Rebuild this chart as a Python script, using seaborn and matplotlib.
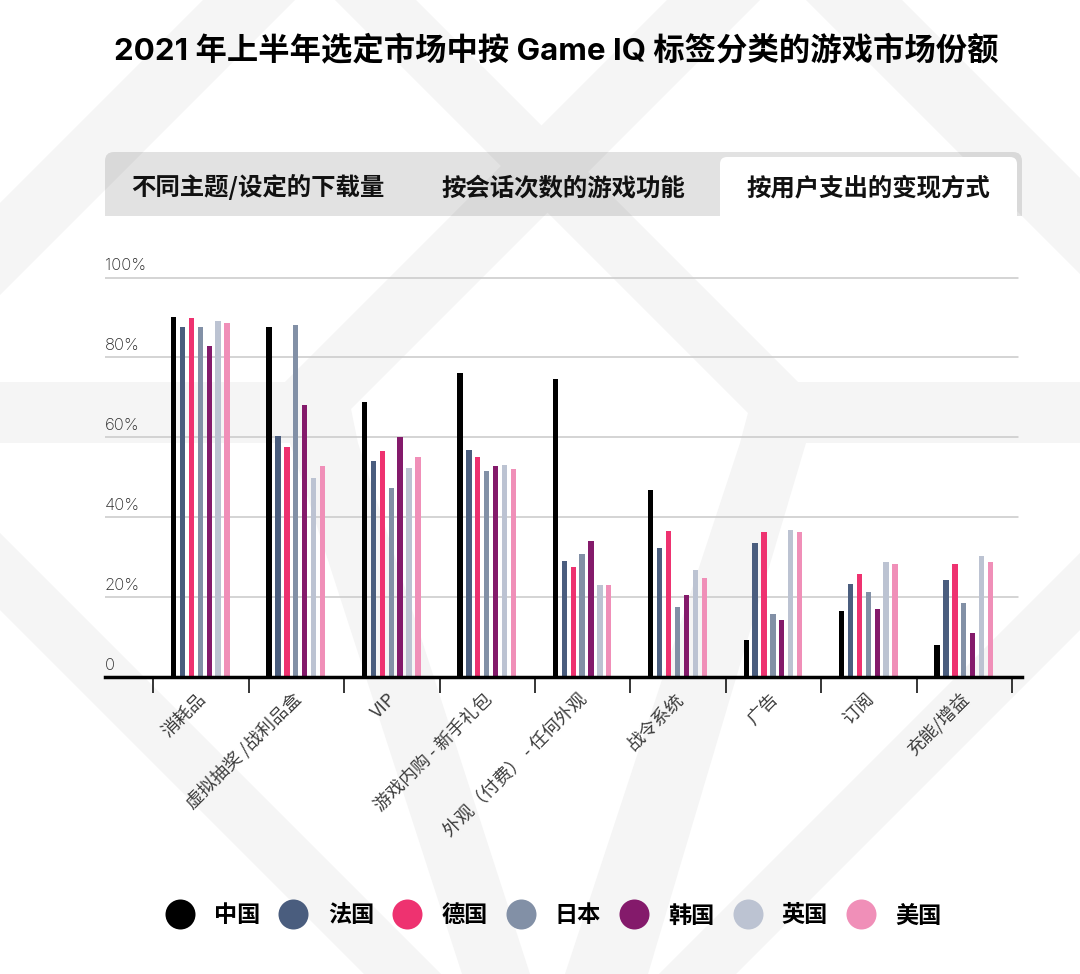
import matplotlib
matplotlib.use("Agg")
import matplotlib.pyplot as plt
from matplotlib.lines import Line2D
from matplotlib.patches import Polygon, FancyBboxPatch, Rectangle
from matplotlib.transforms import ScaledTranslation
import numpy as np
import pandas as pd
import seaborn as sns

title = "2021 年上半年选定市场中按 Game IQ 标签分类的游戏市场份额"
tabs = ["不同主题/设定的下载量", "按会话次数的游戏功能", "按用户支出的变现方式"]
categories = ["消耗品", "虚拟抽奖 /战利品盒", "VIP", "游戏内购 - 新手礼包", "外观（付费） - 任何外观",
              "战令系统", "广告", "订阅", "充能/增益"]
y_ticks = [0, 20, 40, 60, 80, 100]
y_labels = ["0", "20%", "40%", "60%", "80%", "100%"]

china   = [90.1, 87.7, 68.8, 76.2, 74.7, 46.8, 9.2, 16.5, 8.0]
france  = [87.6, 60.3, 54.0, 56.8, 29.0, 32.4, 33.5, 23.4, 24.2]
germany = [89.8, 57.5, 56.6, 55.0, 27.6, 36.6, 36.2, 25.9, 28.2]
japan   = [87.6, 88.0, 47.2, 51.5, 30.8, 17.5, 15.8, 21.2, 18.5]
korea   = [82.8, 68.2, 60.2, 52.8, 34.0, 20.6, 14.3, 16.9, 10.9]
uk      = [89.2, 49.8, 52.2, 53.0, 23.0, 26.7, 36.9, 28.8, 30.3]
usa     = [88.5, 52.8, 55.0, 52.0, 23.0, 24.9, 36.3, 28.2, 28.8]

series = {"中国": china, "法国": france, "德国": germany, "日本": japan,
          "韩国": korea, "英国": uk, "美国": usa}
colors = ["#000000", "#4a5d7e", "#ee3270", "#8290a6", "#841a6b", "#bcc3d2", "#f08fb8"]

W, H = 1080, 974
sns.set_theme(style="white")
CJK = ["Noto Sans CJK SC", "DejaVu Sans"]
LATIN_CJK = ["Inter", "Noto Sans CJK SC", "DejaVu Sans"]
plt.rcParams["font.family"] = CJK

df = pd.DataFrame({"cat": categories, **series}).melt(id_vars="cat", var_name="country", value_name="share")

fig = plt.figure(figsize=(W / 100, H / 100), dpi=100, facecolor="white")

# --- decorative backdrop, in pixel coordinates
bg = fig.add_axes([0, 0, 1, 1], zorder=0)
bg.set_xlim(0, W)
bg.set_ylim(H, 0)
bg.axis("off")
shapes = [
    [(203, 0), (295, 0), (0, 295), (0, 203)],
    [(335, 0), (416, 0), (541.5, 125.5), (667, 0), (760, 0), (588, 172), (798, 382), (1080, 382),
     (1080, 443), (806, 443), (648, 974), (565, 974), (740, 443), (748, 413), (547.5, 212.5),
     (351, 409), (358, 443), (530, 974), (462, 974), (290, 443), (0, 443), (0, 382), (285, 382),
     (501, 166)],
    [(806, 0), (902, 0), (1080, 178), (1080, 274)],
    [(0, 533), (0, 610), (364, 974), (441, 974)],
    [(1080, 553), (1080, 630), (736, 974), (659, 974)],
]
for s in shapes:
    bg.add_patch(Polygon(s, closed=True, facecolor="#f5f5f5", edgecolor="none", zorder=1))
clip = Rectangle((100, 140), 930, 76, transform=bg.transData)
strip = FancyBboxPatch((105, 152), 917, 100, boxstyle="round,pad=0,rounding_size=9",
                       facecolor="black", edgecolor="none", alpha=0.115, zorder=2)
bg.add_patch(strip)
strip.set_clip_path(clip)
tab = FancyBboxPatch((720, 157), 297, 100, boxstyle="round,pad=0,rounding_size=7",
                     facecolor="white", edgecolor="none", zorder=3)
bg.add_patch(tab)
tab.set_clip_path(clip)

# --- chart
x0, x1, y0, ytop = 105, 1022, 677, 277.5
px_per_pct = (y0 - ytop) / 100
ymax = 102
ax = fig.add_axes([x0 / W, 1 - y0 / H, (x1 - x0) / W, ymax * px_per_pct / H], zorder=2)
ax.patch.set_alpha(0)
sns.barplot(data=df, x="cat", y="share", hue="country", order=categories, hue_order=list(series),
            palette=colors, saturation=1, width=0.652, gap=0.4, linewidth=0, legend=False, ax=ax, zorder=3)
step, c0 = 95.44, 200.3
ax.set_xlim((x0 - c0) / step, (x1 - c0) / step)
ax.set_ylim(0, ymax)
ax.set_xlabel("")
ax.set_ylabel("")
for s in ["top", "left", "right"]:
    ax.spines[s].set_visible(False)
ax.spines["bottom"].set_linewidth(2.5)
ax.spines["bottom"].set_color("black")
ax.spines["bottom"].set_zorder(5)

ax.set_yticks(y_ticks)
ax.set_yticklabels(y_labels, ha="left", va="bottom", fontsize=12, color="#2a2a2a",
                   family=LATIN_CJK, fontweight="light")
ax.tick_params(axis="y", length=0, pad=0)
ax.set_axisbelow(True)
ax.grid(axis="y", color="#c9c9c9", linewidth=1.1)
ax.grid(axis="x", visible=False)
for g in ax.get_ygridlines():
    g.set_xdata([0, 0.9961])
for lab in ax.get_yticklabels():
    lab.set_transform(lab.get_transform() + ScaledTranslation(0, 4.5 / 100, fig.dpi_scale_trans))

ax.set_xticks(range(len(categories)))
ax.set_xticklabels(categories, rotation=45, ha="right", va="center", rotation_mode="anchor",
                   fontsize=13, color="#3c3c3c")
ax.tick_params(axis="x", which="major", length=0, pad=14)
for lab in ax.get_xticklabels():
    lab.set_transform(lab.get_transform() + ScaledTranslation(3 / 100, 0, fig.dpi_scale_trans))
ax.set_xticks(np.arange(len(categories) + 1) - 0.4926, minor=True)
ax.tick_params(axis="x", which="minor", bottom=True, length=11.5, width=1.1, color="black")

# --- legend
handles = [Line2D([], [], marker="o", linestyle="", markersize=21.6, color=c, markeredgewidth=0) for c in colors]
leg = ax.legend(handles, list(series), ncol=7, frameon=False, loc="center",
                bbox_to_anchor=(555 / W, 1 - 916 / H), bbox_transform=fig.transFigure,
                prop={"family": CJK, "size": 16.7, "weight": "bold"}, labelcolor="black",
                handlelength=1, handletextpad=0.98, columnspacing=0.92, borderpad=0, borderaxespad=0)

# --- texts
fig.text(556 / W, 1 - 59 / H, title, ha="center", va="baseline", fontsize=22.55, fontweight="bold",
         family=LATIN_CJK, color="black", zorder=5)
for t, cx in zip(tabs, [258, 563.5, 868]):
    fig.text(cx / W, 1 - 195.5 / H, t, ha="center", va="baseline", fontsize=17.6, fontweight="bold",
             family=CJK, color="#111111", zorder=5)

fig.savefig("out.png", dpi=100)
